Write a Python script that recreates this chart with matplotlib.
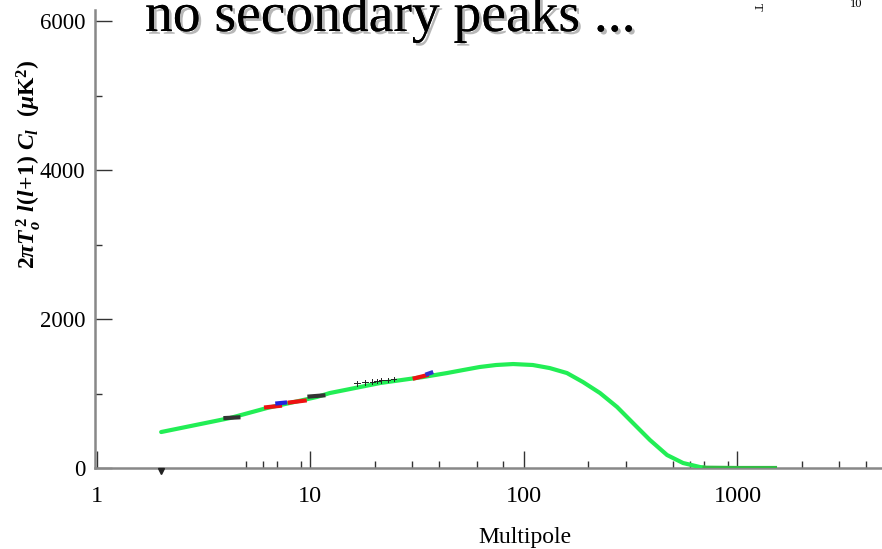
import matplotlib
matplotlib.use("Agg")
import matplotlib.pyplot as plt
import matplotlib.patheffects as pe

# ---- data ----
ell = [2, 4.2, 6.25, 10.7, 12.3, 21.2, 33.6, 43.6, 51.8, 62, 74, 89, 110, 132, 159, 189,
       227, 273, 324, 389, 468, 556, 667, 700]
cl = [483, 671, 805, 953, 1006, 1141, 1221, 1275, 1315, 1356, 1383, 1396, 1383, 1342, 1275, 1154,
      1007, 819, 604, 376, 174, 67, 13, 6]
tail_ell = [700, 1000, 1500]
tail_cl = [6, 2, 2]

# data segments (l_start, l_end, value_start, value_end, colour)
seg_l0 = [4.0, 6.2, 7.0, 8.0, 9.9, 30.8, 35.3]
seg_l1 = [4.6, 7.2, 7.6, 9.4, 11.5, 35.0, 36.8]
seg_v0 = [671, 815, 868, 880, 960, 1205, 1262]
seg_v1 = [680, 835, 878, 905, 975, 1245, 1280]
seg_col = ["#333333", "#ee1111", "#2222dd", "#ee1111", "#333333", "#ee1111", "#3333cc"]

# small error-bar ticks around l ~ 17-25
bar_l = [16.5, 18.0, 19.5, 20.5, 21.5, 23.0, 24.5]
bar_v = [1135, 1150, 1160, 1170, 1175, 1185, 1195]

x_major = [1, 10, 100, 1000]
x_major_labels = ["1", "10", "100", "1000"]
x_minor = [5, 6, 7, 9, 20, 30, 40, 60, 80, 200, 300, 500, 600, 700, 900, 2000, 3000, 4000]
y_major = [0, 2000, 4000, 6000]
y_minor = [1000, 3000, 5000]

plt.rcParams['mathtext.fontset'] = 'custom'
plt.rcParams['mathtext.rm'] = 'Liberation Serif:bold'
plt.rcParams['mathtext.it'] = 'Liberation Serif:italic:bold'
plt.rcParams['mathtext.bf'] = 'Liberation Serif:bold'

fig = plt.figure(figsize=(8.82, 5.49), dpi=100)
ax = fig.add_axes([95/882, (549-468)/549, 1 - 95/882, (468-10)/549])
ax.set_xscale('log')
ax.set_xlim(0.98, 4750)
ax.set_ylim(0, 6150)

ax.plot(ell, cl, color="#22ee55", lw=3.0, solid_capstyle='round', solid_joinstyle='round', zorder=3)
ax.plot(tail_ell, tail_cl, color="#33bb44", lw=2.8, zorder=3)
for a, b, v0, v1, c in zip(seg_l0, seg_l1, seg_v0, seg_v1, seg_col):
    ax.plot([a, b], [v0, v1], color=c, lw=3.0, zorder=4)
for l, v in zip(bar_l, bar_v):
    ax.plot([l, l], [v - 30, v + 30], color="#222222", lw=0.7, zorder=4)
    ax.plot([l * 0.97, l * 1.03], [v, v], color="#222222", lw=0.7, zorder=4)
ax.plot([2.0], [-40], marker='v', color='#222222', ms=5, clip_on=False, zorder=5)

for s in ['top', 'right']:
    ax.spines[s].set_visible(False)
for s in ['left', 'bottom']:
    ax.spines[s].set_color('#888888')
    ax.spines[s].set_linewidth(1.8)

serif = 'Liberation Serif'
ax.set_xticks(x_major)
ax.set_xticklabels(x_major_labels, fontfamily=serif, fontsize=17.5)
ax.set_xticks(x_minor, minor=True)
ax.set_xticklabels([], minor=True)
ax.set_yticks(y_major)
ax.set_yticklabels([str(v) for v in y_major], fontfamily=serif, fontsize=16.5)
ax.set_yticks(y_minor, minor=True)
ax.tick_params(axis='both', which='major', direction='in', length=12, width=1.0, color='#333333')
ax.tick_params(axis='both', which='minor', direction='in', length=5, width=1.0, color='#333333')
ax.tick_params(axis='x', which='major', pad=13)
ax.tick_params(axis='y', which='major', pad=7)

fig.text(525/882, 1 - 537/549, "Multipole", ha='center', va='center',
         fontfamily=serif, fontsize=17)

fig.text(29/882, 1 - 164/549,
         r'$2\pi T_o^{\,2}\ l(l\!+\!1)\ C_l\ \ (\mu\mathrm{K}^2)$',
         rotation=90, ha='center', va='center', fontsize=17)

fig.text(145/882, 1 - 31/549, "no secondary peaks ...", ha='left', va='baseline',
         fontfamily=serif, fontsize=40, color='black',
         path_effects=[pe.withSimplePatchShadow(offset=(2, -2), shadow_rgbFace='#888888', alpha=0.6),
                       pe.Normal()])

fig.text(757/882, 1 - 7/549, "T", rotation=-90, ha='center', va='center',
         fontfamily=serif, fontsize=9)
fig.text(856/882, 1 - 4/549, "10", ha='center', va='center',
         fontfamily=serif, fontsize=9)

fig.savefig("out.png", dpi=100)
